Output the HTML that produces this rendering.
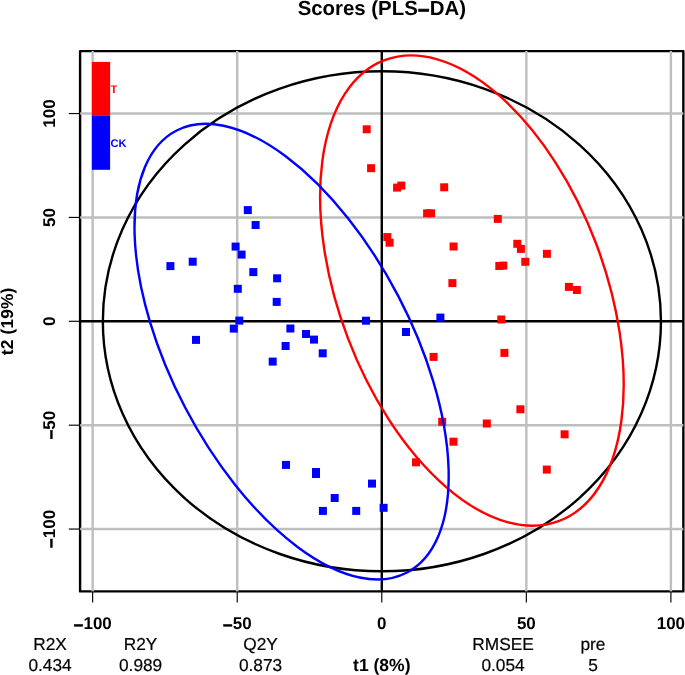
<!DOCTYPE html>
<html><head><meta charset="utf-8"><title>Scores (PLS-DA)</title>
<style>html,body{margin:0;padding:0;background:#fff;overflow:hidden}</style></head>
<body>
<svg width="685" height="675" viewBox="0 0 685 675" style="display:block;will-change:transform;text-rendering:geometricPrecision;font-family:'Liberation Sans',sans-serif">
<rect x="80.1" y="51.1" width="603.25" height="540.30" fill="none" stroke="#000" stroke-width="2.4" stroke-linejoin="round"/>
<g stroke="#bebebe" stroke-width="2.4" fill="none">
<line x1="92.65" y1="51.1" x2="92.65" y2="591.4"/>
<line x1="80.1" y1="529.05" x2="683.35" y2="529.05"/>
<line x1="237.22" y1="51.1" x2="237.22" y2="591.4"/>
<line x1="80.1" y1="425.18" x2="683.35" y2="425.18"/>
<line x1="526.34" y1="51.1" x2="526.34" y2="591.4"/>
<line x1="80.1" y1="217.43" x2="683.35" y2="217.43"/>
<line x1="670.90" y1="51.1" x2="670.90" y2="591.4"/>
<line x1="80.1" y1="113.55" x2="683.35" y2="113.55"/>
</g>
<g stroke="#000" stroke-width="2.4" fill="none">
<line x1="381.78" y1="51.1" x2="381.78" y2="591.4"/>
<line x1="80.1" y1="321.30" x2="683.35" y2="321.30"/>
</g>
<g fill="#ff0000">
<rect x="362.7" y="125.3" width="8.0" height="8.0"/>
<rect x="367.1" y="164.2" width="8.0" height="8.0"/>
<rect x="393.1" y="183.6" width="8.0" height="8.0"/>
<rect x="397.3" y="181.6" width="8.0" height="8.0"/>
<rect x="440.2" y="183.3" width="8.0" height="8.0"/>
<rect x="423.1" y="209.3" width="8.0" height="8.0"/>
<rect x="427.1" y="209.3" width="8.0" height="8.0"/>
<rect x="493.8" y="214.9" width="8.0" height="8.0"/>
<rect x="383.3" y="233.1" width="8.0" height="8.0"/>
<rect x="385.6" y="238.7" width="8.0" height="8.0"/>
<rect x="449.6" y="242.5" width="8.0" height="8.0"/>
<rect x="513.3" y="239.8" width="8.0" height="8.0"/>
<rect x="516.9" y="244.9" width="8.0" height="8.0"/>
<rect x="542.9" y="249.8" width="8.0" height="8.0"/>
<rect x="521.3" y="257.8" width="8.0" height="8.0"/>
<rect x="495.3" y="262.0" width="8.0" height="8.0"/>
<rect x="499.3" y="261.6" width="8.0" height="8.0"/>
<rect x="448.4" y="279.1" width="8.0" height="8.0"/>
<rect x="564.9" y="282.9" width="8.0" height="8.0"/>
<rect x="572.9" y="286.0" width="8.0" height="8.0"/>
<rect x="497.3" y="315.5" width="8.0" height="8.0"/>
<rect x="429.6" y="352.9" width="8.0" height="8.0"/>
<rect x="500.4" y="348.9" width="8.0" height="8.0"/>
<rect x="516.4" y="405.3" width="8.0" height="8.0"/>
<rect x="438.2" y="417.8" width="8.0" height="8.0"/>
<rect x="482.8" y="419.5" width="8.0" height="8.0"/>
<rect x="449.5" y="437.7" width="8.0" height="8.0"/>
<rect x="560.6" y="430.3" width="8.0" height="8.0"/>
<rect x="412.0" y="458.3" width="8.0" height="8.0"/>
<rect x="542.8" y="465.6" width="8.0" height="8.0"/>
</g><g fill="#0000ff">
<rect x="243.8" y="206.1" width="8.0" height="8.0"/>
<rect x="251.6" y="221.0" width="8.0" height="8.0"/>
<rect x="231.6" y="242.6" width="8.0" height="8.0"/>
<rect x="237.6" y="250.6" width="8.0" height="8.0"/>
<rect x="188.7" y="257.7" width="8.0" height="8.0"/>
<rect x="166.4" y="262.1" width="8.0" height="8.0"/>
<rect x="249.3" y="268.1" width="8.0" height="8.0"/>
<rect x="273.1" y="274.3" width="8.0" height="8.0"/>
<rect x="233.8" y="284.8" width="8.0" height="8.0"/>
<rect x="272.7" y="297.9" width="8.0" height="8.0"/>
<rect x="235.3" y="316.6" width="8.0" height="8.0"/>
<rect x="229.8" y="324.6" width="8.0" height="8.0"/>
<rect x="286.4" y="324.5" width="8.0" height="8.0"/>
<rect x="192.0" y="335.9" width="8.0" height="8.0"/>
<rect x="281.6" y="342.0" width="8.0" height="8.0"/>
<rect x="302.0" y="330.0" width="8.0" height="8.0"/>
<rect x="310.0" y="335.6" width="8.0" height="8.0"/>
<rect x="318.7" y="349.3" width="8.0" height="8.0"/>
<rect x="268.7" y="357.6" width="8.0" height="8.0"/>
<rect x="362.0" y="316.7" width="8.0" height="8.0"/>
<rect x="436.4" y="313.6" width="8.0" height="8.0"/>
<rect x="402.0" y="328.0" width="8.0" height="8.0"/>
<rect x="282.0" y="460.9" width="8.0" height="8.0"/>
<rect x="312.0" y="468.0" width="8.0" height="8.0"/>
<rect x="312.0" y="470.0" width="8.0" height="8.0"/>
<rect x="368.0" y="479.6" width="8.0" height="8.0"/>
<rect x="330.7" y="494.0" width="8.0" height="8.0"/>
<rect x="318.9" y="506.9" width="8.0" height="8.0"/>
<rect x="352.2" y="506.9" width="8.0" height="8.0"/>
<rect x="379.6" y="503.8" width="8.0" height="8.0"/>
</g>
<g fill="none" stroke-width="2.4">
<ellipse cx="381.9" cy="321.3" rx="279.05" ry="250" stroke="#000"/>
<ellipse cx="471.9" cy="290.6" rx="246.38" ry="132.80" transform="rotate(69.247 471.9 290.6)" stroke="#ff0000"/>
<ellipse cx="291.6" cy="351.6" rx="249.23" ry="120.25" transform="rotate(62.412 291.6 351.6)" stroke="#0000ff"/>
</g>
<rect x="91.9" y="61.9" width="18.2" height="54" fill="#ff0000"/>
<rect x="91.9" y="115.9" width="18.2" height="53.9" fill="#0000ff"/>
<g font-weight="bold" font-size="11.1px"><text x="110.6" y="92.7" fill="#ff0000">T</text><text x="110.6" y="147" fill="#0000ff">CK</text></g>
<g stroke="#000" stroke-width="1.15">
<line x1="92.65" y1="591.4" x2="92.65" y2="602.6"/>
<line x1="80.1" y1="529.05" x2="68.8" y2="529.05"/>
<line x1="237.22" y1="591.4" x2="237.22" y2="602.6"/>
<line x1="80.1" y1="425.18" x2="68.8" y2="425.18"/>
<line x1="381.78" y1="591.4" x2="381.78" y2="602.6"/>
<line x1="80.1" y1="321.30" x2="68.8" y2="321.30"/>
<line x1="526.34" y1="591.4" x2="526.34" y2="602.6"/>
<line x1="80.1" y1="217.43" x2="68.8" y2="217.43"/>
<line x1="670.90" y1="591.4" x2="670.90" y2="602.6"/>
<line x1="80.1" y1="113.55" x2="68.8" y2="113.55"/>
</g>
<g font-weight="bold" font-size="17px" text-anchor="middle" fill="#000">
<text x="92.65" y="629.4"><tspan dy="1.6" stroke="#000" stroke-width="0.5">−</tspan><tspan dy="-1.6">100</tspan></text>
<text transform="translate(55,529.05) rotate(-90)"><tspan dy="1.6" stroke="#000" stroke-width="0.5">−</tspan><tspan dy="-1.6">100</tspan></text>
<text x="237.22" y="629.4"><tspan dy="1.6" stroke="#000" stroke-width="0.5">−</tspan><tspan dy="-1.6">50</tspan></text>
<text transform="translate(55,425.18) rotate(-90)"><tspan dy="1.6" stroke="#000" stroke-width="0.5">−</tspan><tspan dy="-1.6">50</tspan></text>
<text x="381.78" y="629.4">0</text>
<text transform="translate(55,321.30) rotate(-90)">0</text>
<text x="526.34" y="629.4">50</text>
<text transform="translate(55,217.43) rotate(-90)">50</text>
<text x="670.90" y="629.4">100</text>
<text transform="translate(55,113.55) rotate(-90)">100</text>
<text x="381.8" y="670.8" font-size="17.5px">t1 (8%)</text>
<text transform="translate(13.4,321.4) rotate(-90)" font-size="17.3px" letter-spacing="0.15">t2 (19%)</text>
<text x="381.8" y="15.3" font-size="20.4px">Scores (PLS<tspan dy="2" stroke="#000" stroke-width="0.6">−</tspan><tspan dy="-2">DA)</tspan></text>
</g>
<g font-size="17.3px" text-anchor="middle" fill="#000" stroke="#000" stroke-width="0.2">
<text x="50" y="649.7">R2X</text><text x="50" y="670.7">0.434</text>
<text x="140.6" y="649.7">R2Y</text><text x="140.6" y="670.7">0.989</text>
<text x="260.5" y="649.7">Q2Y</text><text x="260.5" y="670.7">0.873</text>
<text x="503" y="649.7">RMSEE</text><text x="503" y="670.7">0.054</text>
<text x="593" y="649.7">pre</text><text x="593" y="670.7">5</text>
</g>
</svg>
</body></html>
